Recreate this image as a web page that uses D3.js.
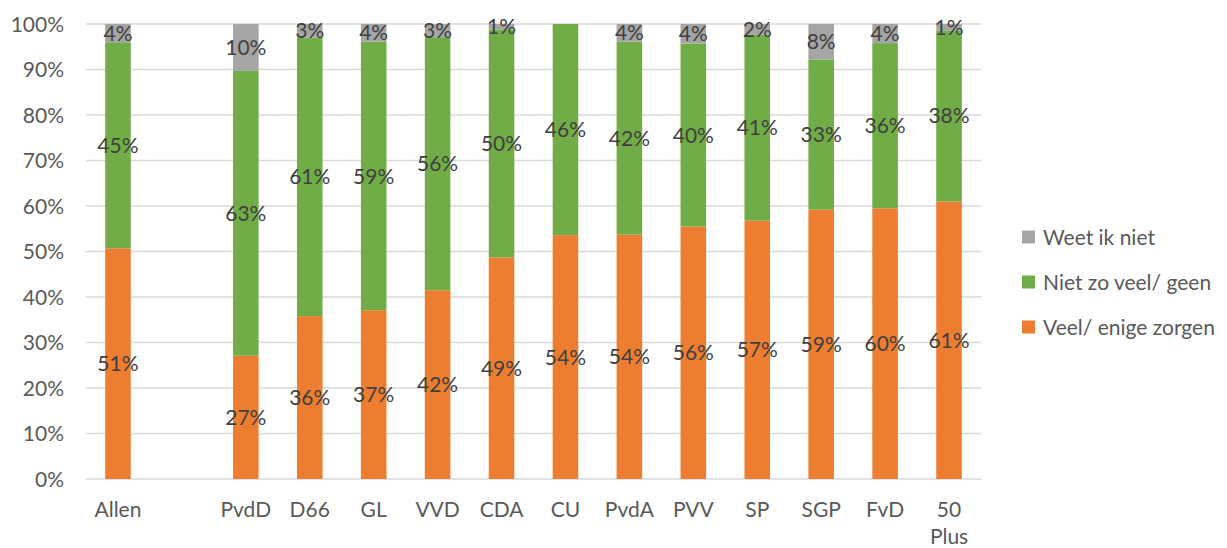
<!DOCTYPE html>
<html lang="nl">
<head>
   <meta charset="UTF-8">
   <title>Zorgen per partij</title>
   <script src="https://cdn.jsdelivr.net/npm/d3@7"></script>
   <style>
       body { margin: 0; background: #fff; }
       text { font-family: Lato, "Open Sans", sans-serif; }
   </style>
</head>
<body>
   <svg id="chart" width="1227" height="548"></svg>

   <script>
       // categories (empty slot between Allen and PvdD)
       const categories = ['Allen', '', 'PvdD', 'D66', 'GL', 'VVD', 'CDA', 'CU', 'PvdA', 'PVV', 'SP', 'SGP', 'FvD', '50 Plus'];
       const seriesNames = ['Veel/ enige zorgen', 'Niet zo veel/ geen', 'Weet ik niet'];
       const veel   = [50.7, null, 27.1, 35.8, 37.1, 41.5, 48.7, 53.6, 53.7, 55.5, 56.8, 59.2, 59.5, 61.0];
       const niet   = [45.3, null, 62.6, 61.2, 59.0, 55.6, 50.1, 46.4, 42.4, 40.2, 40.8, 33.0, 36.3, 37.6];
       const weet   = [4.0,  null, 10.3, 3.0,  3.9,  2.9,  1.2,  0,    3.9,  4.3,  2.4,  7.8,  4.2,  1.4];
       const yTicks = [0, 10, 20, 30, 40, 50, 60, 70, 80, 90, 100];
       const colors = ['#ED7D31', '#70AD47', '#A5A5A5'];

       const svg = d3.select('#chart');
       const plotLeft = 86, plotRight = 981, plotTop = 24, plotBottom = 479;
       const fs = 21;

       const x = d3.scaleBand()
           .domain(d3.range(categories.length))
           .range([plotLeft, plotRight])
           .paddingInner(0.6)
           .paddingOuter(0.3);

       const y = d3.scaleLinear().domain([0, 100]).range([plotBottom, plotTop]);

       // gridlines + y labels
       svg.append('g')
           .selectAll('line')
           .data(yTicks)
           .join('line')
           .attr('x1', plotLeft).attr('x2', plotRight)
           .attr('y1', d => y(d)).attr('y2', d => y(d))
           .attr('stroke', '#d9d9d9')
           .attr('stroke-width', 1.6);

       svg.append('g')
           .selectAll('text')
           .data(yTicks)
           .join('text')
           .attr('x', 64)
           .attr('y', d => y(d))
           .attr('dy', '0.36em')
           .attr('text-anchor', 'end')
           .attr('font-size', fs)
           .attr('fill', '#595959')
           .text(d => d + '%');

       // stacked data, normalised to 100%
       const rows = categories.map((c, i) => ({ i, vals: [veel[i], niet[i], weet[i]] }))
           .filter(r => r.vals[0] !== null);
       const segs = [];
       rows.forEach(r => {
           const total = d3.sum(r.vals);
           let acc = 0;
           r.vals.forEach((v, s) => {
               const p = v / total * 100;
               segs.push({ i: r.i, s, v, y0: acc, y1: acc + p });
               acc += p;
           });
       });

       svg.append('g')
           .selectAll('rect')
           .data(segs.filter(d => d.v > 0))
           .join('rect')
           .attr('x', d => x(d.i))
           .attr('width', x.bandwidth())
           .attr('y', d => y(d.y1))
           .attr('height', d => y(d.y0) - y(d.y1))
           .attr('fill', d => colors[d.s]);

       svg.append('g')
           .selectAll('text')
           .data(segs.filter(d => d.v > 0))
           .join('text')
           .attr('x', d => x(d.i) + x.bandwidth() / 2)
           .attr('y', d => y((d.y0 + d.y1) / 2))
           .attr('dy', '0.36em')
           .attr('text-anchor', 'middle')
           .attr('font-size', fs)
           .attr('fill', '#404040')
           .text(d => Math.round(d.v) + '%');

       // x labels
       svg.append('g')
           .selectAll('text')
           .data(categories.map((c, i) => ({ c, i })).filter(d => d.c))
           .join('text')
           .attr('x', d => x(d.i) + x.bandwidth() / 2)
           .attr('y', 517)
           .attr('text-anchor', 'middle')
           .attr('font-size', fs)
           .attr('fill', '#595959')
           .each(function (d) {
               const parts = d.c.split(' ');
               d3.select(this).selectAll('tspan')
                   .data(parts)
                   .join('tspan')
                   .attr('x', x(d.i) + x.bandwidth() / 2)
                   .attr('dy', (p, k) => k === 0 ? 0 : 27)
                   .text(p => p);
           });

       // legend (reverse order like Excel)
       const legend = svg.append('g')
           .selectAll('g')
           .data([2, 1, 0])
           .join('g')
           .attr('transform', (d, k) => `translate(1022, ${237 + k * 45})`);

       legend.append('rect')
           .attr('y', -6.5)
           .attr('width', 13)
           .attr('height', 13)
           .attr('fill', d => colors[d]);

       legend.append('text')
           .attr('x', 21)
           .attr('dy', '0.36em')
           .attr('font-size', fs)
           .attr('fill', '#595959')
           .text(d => seriesNames[d]);
   </script>
</body>
</html>
